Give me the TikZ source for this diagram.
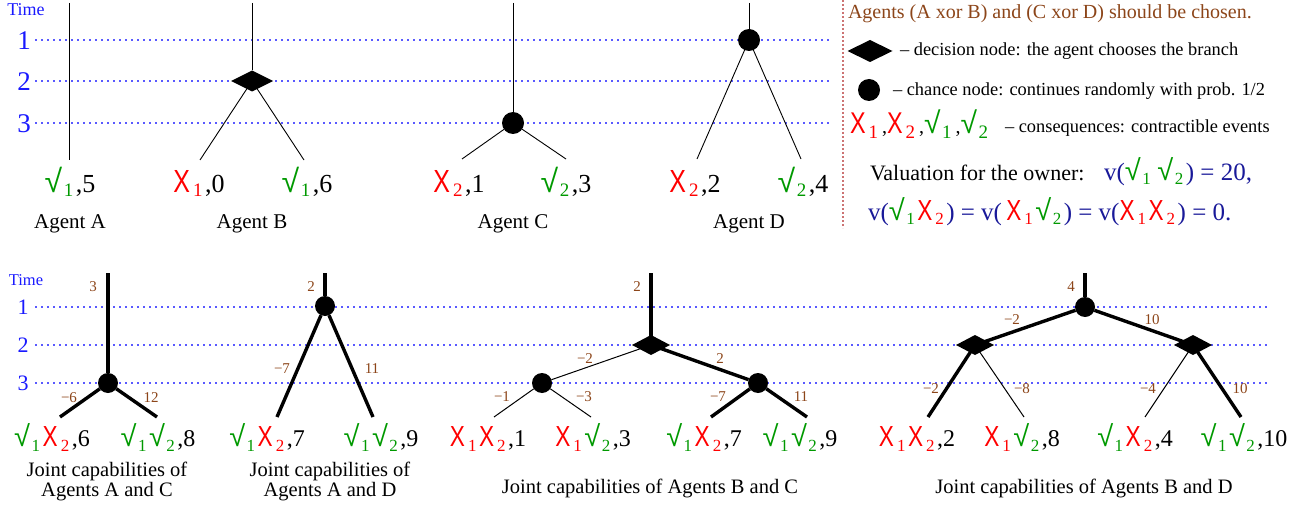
\documentclass[tikz,border=0pt]{standalone}
\usepackage{graphicx}
\usepackage{fontspec}
\setmainfont{Liberation Serif}
\newfontfamily\xfont{Liberation Sans}
\usetikzlibrary{shapes.geometric}
\definecolor{ckgreen}{rgb}{0,0.6,0}
\definecolor{xred}{rgb}{1,0,0}
\definecolor{lbl}{rgb}{0.55,0.27,0.1}
\definecolor{tblue}{rgb}{0.1,0.1,1}
\definecolor{gridc}{rgb}{0.35,0.35,1}
\definecolor{vblue}{rgb}{0.1,0.1,0.6}
\definecolor{sepc}{rgb}{0.8,0.45,0.45}
\def\symsz{30}\def\subsz{19}\def\subdrop{5pt}
\newcommand\Xs[1]{{\color{xred}{\xfont\fontsize{\symsz}{\symsz}\selectfont\scalebox{0.78}[1]{X}}\kern3pt\raisebox{-\subdrop}{\fontsize{\subsz}{\subsz}\selectfont #1}\kern2.5pt}}
\newcommand\Ck[1]{{\color{ckgreen}{\xfont\fontsize{\symsz}{\symsz}\selectfont √}\kern1.5pt\raisebox{-\subdrop}{\fontsize{\subsz}{\subsz}\selectfont #1}\kern2.5pt}}
\begin{document}
\begin{tikzpicture}[x=1pt,y=-1pt,
 every node/.style={inner sep=0pt, outer sep=0pt},
 tline/.style={line width=0.9pt},
 thk/.style={line width=3.4pt},
 thn/.style={line width=1pt},
 gridl/.style={draw=gridc, line width=1.4pt, dash pattern=on 1.5pt off 4.5pt},
 decA/.style={diamond, fill=black, minimum width=42pt, minimum height=21pt},
 decB/.style={diamond, fill=black, minimum width=38pt, minimum height=20pt},
 decL/.style={diamond, fill=black, minimum width=45pt, minimum height=22pt},
 chA/.style={circle, fill=black, minimum size=22pt},
 chB/.style={circle, fill=black, minimum size=20pt},
 elab/.style={text=lbl, font=\fontsize{15}{15}\selectfont},
 leafT/.style={anchor=base, font=\fontsize{26}{26}\selectfont\def\symsz{32}\def\subsz{19}\def\subdrop{5pt}},
 leafB/.style={anchor=base, font=\fontsize{24}{24}\selectfont\def\symsz{29}\def\subsz{17}\def\subdrop{5pt}},
 agentlab/.style={anchor=base, font=\fontsize{21}{21}\selectfont},
 caplab/.style={anchor=base, font=\fontsize{20.5}{20.5}\selectfont},
 timeT/.style={text=tblue, font=\fontsize{18}{18}\selectfont},
 numT/.style={text=tblue, font=\fontsize{27}{27}\selectfont},
 timeB/.style={text=tblue, font=\fontsize{16.5}{16.5}\selectfont},
 numB/.style={text=tblue, font=\fontsize{22}{22}\selectfont},
 legtext/.style={anchor=base west, font=\fontsize{18.4}{18.4}\selectfont},
 valstyle/.style={anchor=base west, text=vblue, font=\fontsize{25}{25}\selectfont\def\symsz{29}\def\subsz{17}\def\subdrop{4.5pt}},
]
\useasboundingbox (0,0) rectangle (1309,508);

% ---------- top grid ----------
\foreach \y/\n in {40/1,81/2,123/3}{
  \coordinate (gs\n) at (35,\y); \coordinate (ge\n) at (830,\y);
  \draw[gridl] (gs\n) -- (ge\n);
}
\node[timeT] (tt) at (26,10) {Time};
\node[numT] (t1) at (24,41) {1};
\node[numT] (t2) at (24,82) {2};
\node[numT] (t3) at (24,124) {3};

% Agent A
\coordinate (atop) at (69,3); \coordinate (abot) at (69,160);
\draw[tline] (atop) -- (abot);
\node[leafT] (la) at (70,192) {\Ck{1},5};
\node[agentlab] (na) at (70,228) {Agent A};

% Agent B
\coordinate (btop) at (252,3);
\node[decA] (bd) at (252,81) {};
\coordinate (bl) at (200,160); \coordinate (br) at (304,160);
\draw[tline] (btop) -- (bd);
\draw[tline] (bd.center) -- (bl);
\draw[tline] (bd.center) -- (br);
\node[leafT] (lb1) at (199,192) {\Xs{1},0};
\node[leafT] (lb2) at (307,192) {\Ck{1},6};
\node[agentlab] (nb) at (252,228) {Agent B};

% Agent C
\coordinate (ctop) at (513,3);
\node[chA] (cc) at (513,123) {};
\coordinate (cl) at (462,159); \coordinate (cr) at (566,159);
\draw[tline] (ctop) -- (cc);
\draw[tline] (cc) -- (cl);
\draw[tline] (cc) -- (cr);
\node[leafT] (lc1) at (459,192) {\Xs{2},1};
\node[leafT] (lc2) at (566,192) {\Ck{2},3};
\node[agentlab] (nc) at (513,228) {Agent C};

% Agent D
\coordinate (dtop) at (749,3);
\node[chA] (dc) at (749,40) {};
\coordinate (dl) at (697,159); \coordinate (dr) at (801,159);
\draw[tline] (dtop) -- (dc);
\draw[tline] (dc) -- (dl);
\draw[tline] (dc) -- (dr);
\node[leafT] (ld1) at (695,192) {\Xs{2},2};
\node[leafT] (ld2) at (803,192) {\Ck{2},4};
\node[agentlab] (nd) at (749,228) {Agent D};

% separator
\coordinate (s1) at (843,0); \coordinate (s2) at (843,228);
\draw[sepc, line width=1.2pt, dash pattern=on 2pt off 2pt] (s1) -- (s2);

% legend
\node[legtext, text=lbl, font=\fontsize{20}{20}\selectfont] (hdr) at (848,19) {Agents (A xor B) and (C xor D) should be chosen.};
\node[decL] (lgd) at (870,51) {};
\node[legtext] (lgdt) at (900,56) {– decision node: the agent chooses the branch};
\node[chA] (lgc) at (869,90) {};
\node[legtext] (lgct) at (893,96) {– chance node: continues randomly with prob. 1/2};
\node[anchor=base west, font=\fontsize{20}{20}\selectfont\def\symsz{30}\def\subsz{19}\def\subdrop{5pt}] (lgs) at (850,134) {\Xs{1}\kern1.5pt,\Xs{2}\kern1.5pt,\Ck{1}\kern1.5pt,\Ck{2}};
\node[legtext] (lgst) at (1005,133) {– consequences: contractible events};
\node[anchor=base west, font=\fontsize{22}{22}\selectfont] (val1) at (870,180) {Valuation for the owner:};
\node[valstyle] (val2) at (1104,180) {v(\Ck{1}\,\Ck{2}) = 20,};
\node[valstyle] (val3) at (868,220) {v(\Ck{1}\Xs{2}) = v(\,\Xs{1}\Ck{2}) = v(\Xs{1}\Xs{2}) = 0.};

% ---------- bottom grid ----------
\foreach \y/\n in {307/1,345/2,383/3}{
  \coordinate (hs\n) at (35,\y); \coordinate (he\n) at (1270,\y);
  \draw[gridl] (hs\n) -- (he\n);
}
\node[timeB] (bt) at (26,280) {Time};
\node[numB] (b1) at (23,307) {1};
\node[numB] (b2) at (23,345) {2};
\node[numB] (b3) at (23,383) {3};

% Panel 1: A and C
\coordinate (p1top) at (108,273);
\node[chB] (p1c) at (108,383) {};
\coordinate (p1l) at (60,417); \coordinate (p1r) at (157,417);
\draw[thk] (p1top) -- (p1c);
\draw[thk] (p1c) -- (p1l);
\draw[thk] (p1c) -- (p1r);
\node[elab] (e11) at (93,287) {3};
\node[elab] (e12) at (69,398) {−6};
\node[elab] (e13) at (151,398) {12};
\node[leafB] (q11) at (52,446) {\Ck{1}\Xs{2},6};
\node[leafB] (q12) at (158,446) {\Ck{1}\Ck{2},8};
\node[caplab] (k1a) at (107,476) {Joint capabilities of};
\node[caplab] (k1b) at (107,496) {Agents A and C};

% Panel 2: A and D
\coordinate (p2top) at (325,273);
\node[chB] (p2c) at (325,306) {};
\coordinate (p2l) at (277,417); \coordinate (p2r) at (373,417);
\draw[thk] (p2top) -- (p2c);
\draw[thk] (p2c) -- (p2l);
\draw[thk] (p2c) -- (p2r);
\node[elab] (e21) at (311,287) {2};
\node[elab] (e22) at (282,369) {−7};
\node[elab] (e23) at (372,369) {11};
\node[leafB] (q21) at (267,446) {\Ck{1}\Xs{2},7};
\node[leafB] (q22) at (381,446) {\Ck{1}\Ck{2},9};
\node[caplab] (k2a) at (330,476) {Joint capabilities of};
\node[caplab] (k2b) at (330,496) {Agents A and D};

% Panel 3: B and C
\coordinate (p3top) at (651,273);
\node[decB] (p3d) at (651,345) {};
\node[chB] (p3cl) at (542,383) {};
\node[chB] (p3cr) at (758,383) {};
\coordinate (p3a) at (494,417); \coordinate (p3b) at (591,417);
\coordinate (p3c) at (711,417); \coordinate (p3e) at (807,417);
\draw[thk] (p3top) -- (p3d.center);
\draw[thn] (p3d.center) -- (p3cl);
\draw[thk] (p3d.center) -- (p3cr);
\draw[thn] (p3cl) -- (p3a);
\draw[thn] (p3cl) -- (p3b);
\draw[thk] (p3cr) -- (p3c);
\draw[thk] (p3cr) -- (p3e);
\node[elab] (e31) at (637,287) {2};
\node[elab] (e32) at (585,359) {−2};
\node[elab] (e33) at (720,359) {2};
\node[elab] (e34) at (502,397) {−1};
\node[elab] (e35) at (584,397) {−3};
\node[elab] (e36) at (718,397) {−7};
\node[elab] (e37) at (801,397) {11};
\node[leafB] (q31) at (488,446) {\Xs{1}\Xs{2},1};
\node[leafB] (q32) at (593,446) {\Xs{1}\Ck{2},3};
\node[leafB] (q33) at (704,446) {\Ck{1}\Xs{2},7};
\node[leafB] (q34) at (800,446) {\Ck{1}\Ck{2},9};
\node[caplab] (k3) at (650,493) {Joint capabilities of Agents B and C};

% Panel 4: B and D
\coordinate (p4top) at (1085,273);
\node[chB] (p4c) at (1085,307) {};
\node[decB] (p4dl) at (975,345) {};
\node[decB] (p4dr) at (1193,345) {};
\coordinate (p4a) at (928,417); \coordinate (p4b) at (1024,417);
\coordinate (p4e) at (1145,417); \coordinate (p4f) at (1241,417);
\draw[thk] (p4top) -- (p4c);
\draw[thk] (p4c) -- (p4dl.center);
\draw[thk] (p4c) -- (p4dr.center);
\draw[thk] (p4dl.center) -- (p4a);
\draw[thn] (p4dl.center) -- (p4b);
\draw[thn] (p4dr.center) -- (p4e);
\draw[thk] (p4dr.center) -- (p4f);
\node[elab] (e41) at (1071,287) {4};
\node[elab] (e42) at (1012,320) {−2};
\node[elab] (e43) at (1152,320) {10};
\node[elab] (e44) at (931,389) {−2};
\node[elab] (e45) at (1022,389) {−8};
\node[elab] (e46) at (1148,389) {−4};
\node[elab] (e47) at (1240,389) {10};
\node[leafB] (q41) at (917,446) {\Xs{1}\Xs{2},2};
\node[leafB] (q42) at (1022,446) {\Xs{1}\Ck{2},8};
\node[leafB] (q43) at (1135,446) {\Ck{1}\Xs{2},4};
\node[leafB] (q44) at (1244,446) {\Ck{1}\Ck{2},10};
\node[caplab] (k4) at (1084,493) {Joint capabilities of Agents B and D};
\end{tikzpicture}
\end{document}
